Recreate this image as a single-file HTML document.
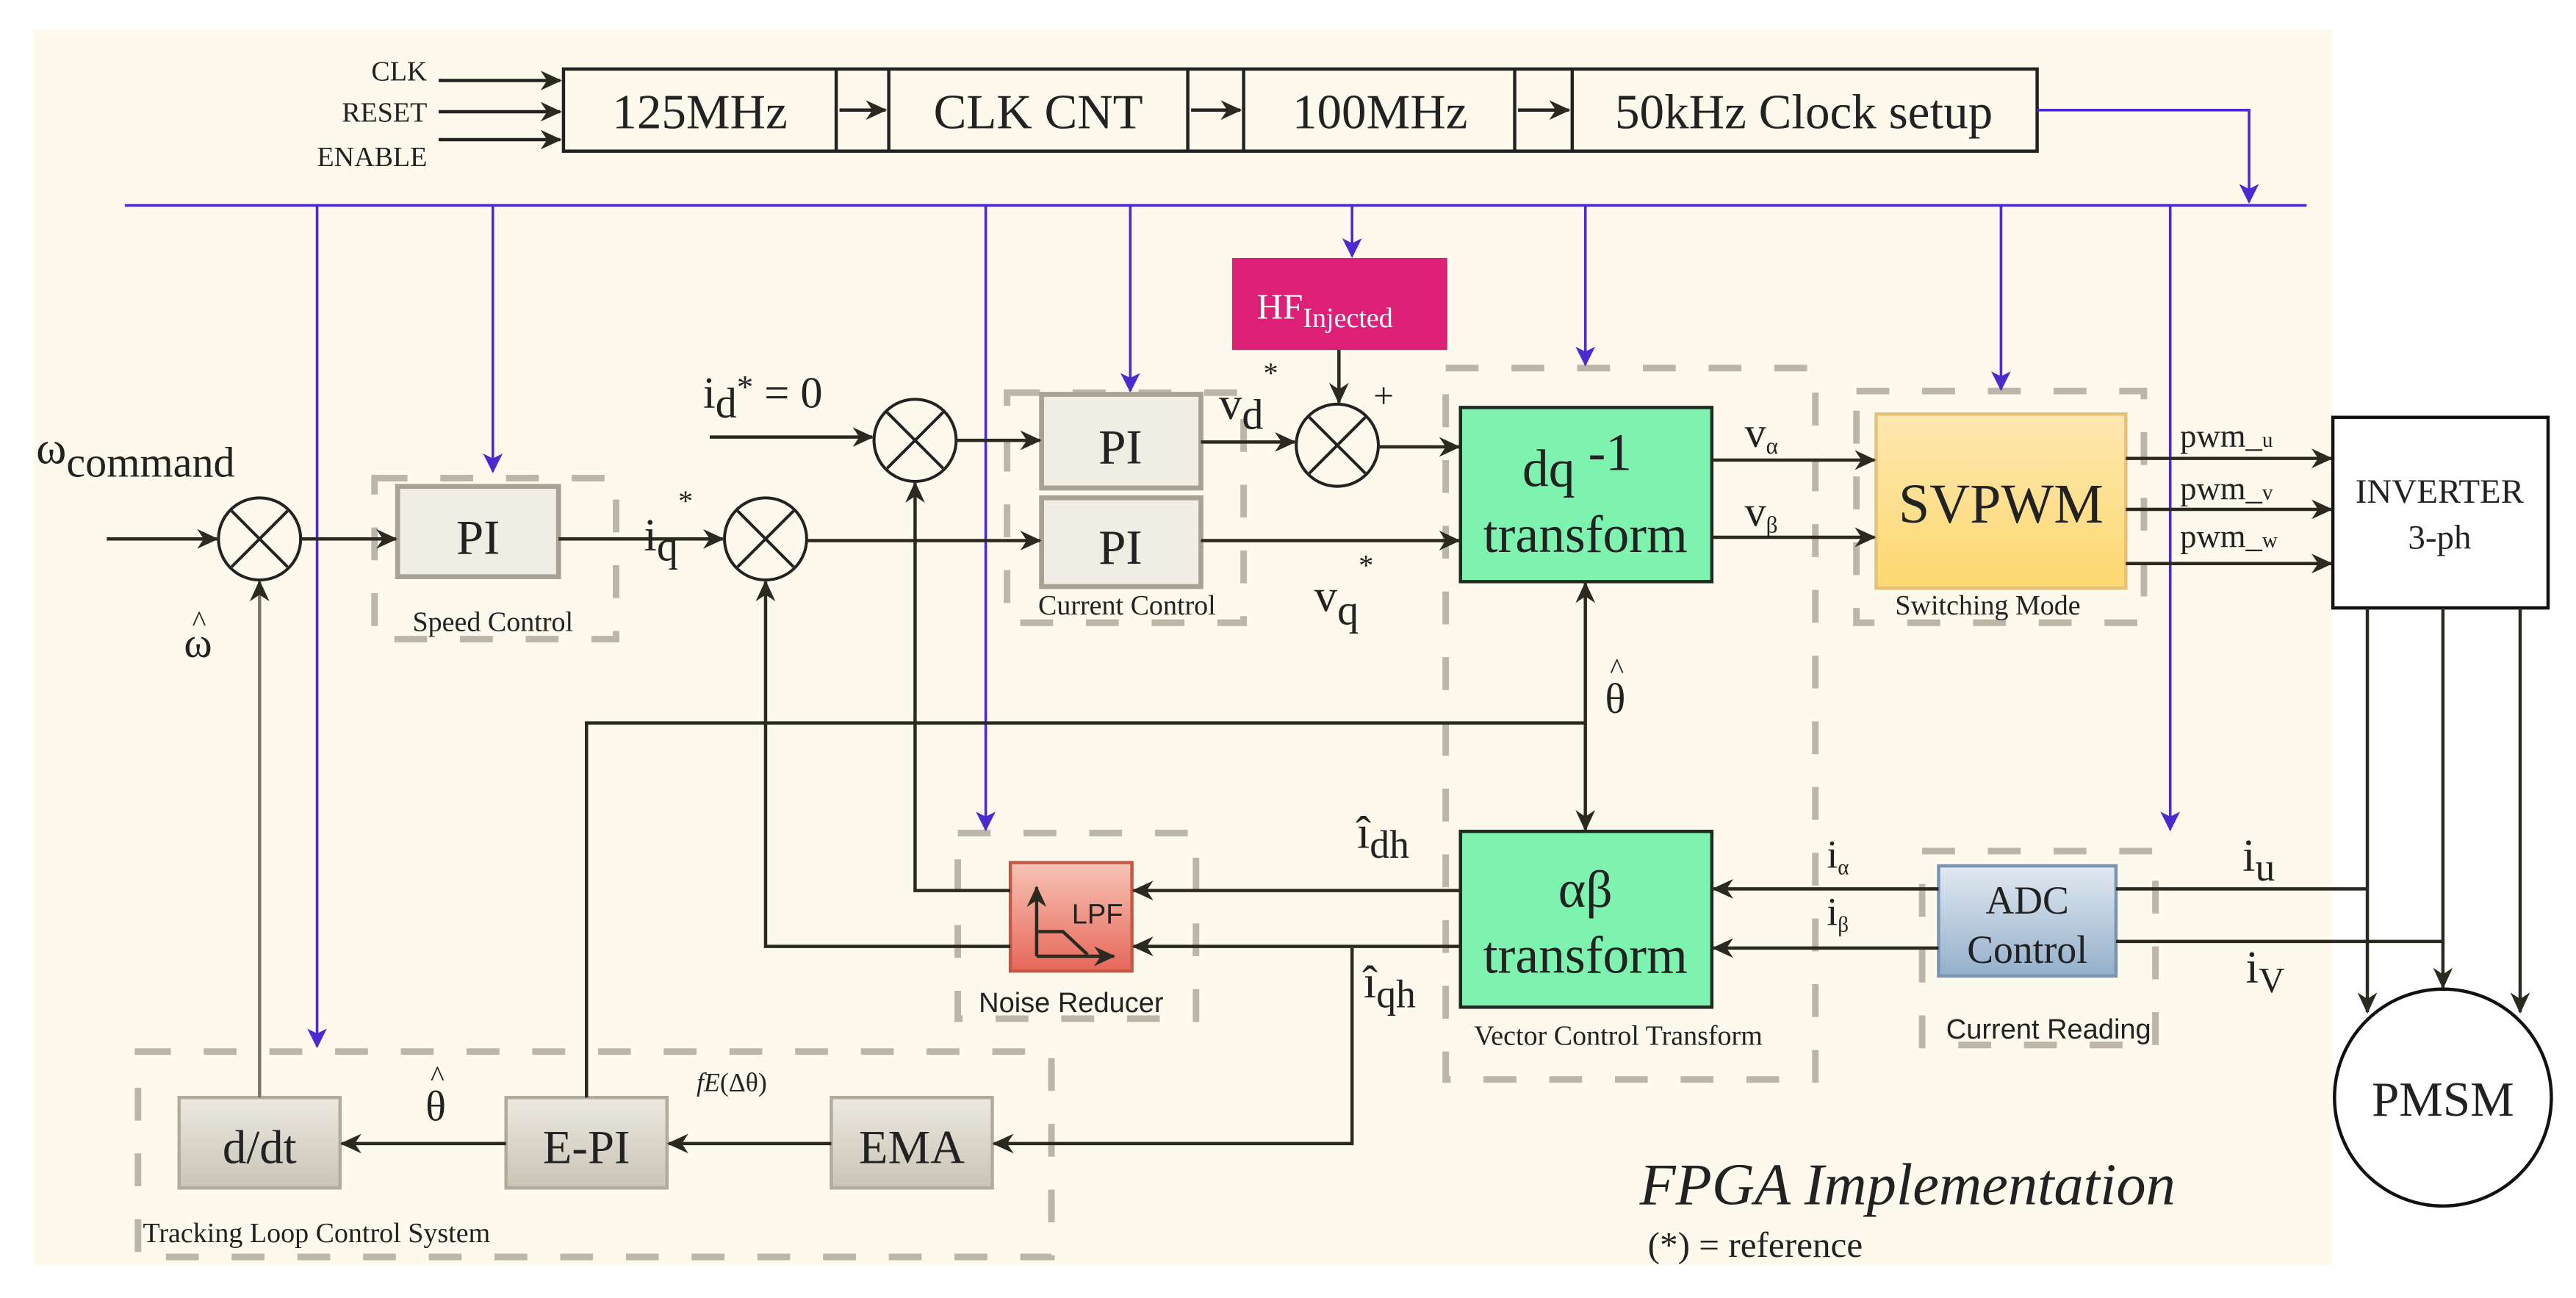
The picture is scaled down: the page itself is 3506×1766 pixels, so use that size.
<!DOCTYPE html>
<html><head><meta charset="utf-8"><style>
html,body{margin:0;padding:0;background:#fff;}
svg{display:block;}
text{font-family:"Liberation Serif",serif;fill:#222;}
.s{font-family:"Liberation Sans",sans-serif;}
</style></head><body>
<svg width="3506" height="1766" viewBox="0 0 1568 790" preserveAspectRatio="none" xmlns="http://www.w3.org/2000/svg">
<defs>
<marker id="a" markerUnits="userSpaceOnUse" markerWidth="14" markerHeight="14" refX="12" refY="7" orient="auto"><path d="M0,1 L13,7 L0,13 L4,7 Z" fill="#2a2a20"/></marker>
<marker id="p" markerUnits="userSpaceOnUse" markerWidth="12" markerHeight="14" refX="11" refY="6" orient="auto"><path d="M0,0 L12,6 L0,12 L3,6 Z" fill="#4a2bd0"/></marker>
<linearGradient id="gy" x1="0" y1="0" x2="0" y2="1"><stop offset="0" stop-color="#ece9e0"/><stop offset="1" stop-color="#c9c4b6"/></linearGradient>
<linearGradient id="yl" x1="0" y1="0" x2="0" y2="1"><stop offset="0" stop-color="#fde8b0"/><stop offset="1" stop-color="#fdd870"/></linearGradient>
<linearGradient id="bl" x1="0" y1="0" x2="0" y2="1"><stop offset="0" stop-color="#e2e9f1"/><stop offset="1" stop-color="#93afca"/></linearGradient>
<linearGradient id="rd" x1="0" y1="0" x2="0" y2="1"><stop offset="0" stop-color="#f7c4b6"/><stop offset="1" stop-color="#e6685a"/></linearGradient>
</defs>
<rect x="20" y="18" width="1400" height="752" fill="#fdf9ec"/>

<g fill="none" stroke="#bbb6a7" stroke-width="4" stroke-dasharray="20 20">
<rect x="228" y="291" width="147" height="98"/>
<rect x="613" y="239" width="144" height="140"/>
<rect x="880" y="224" width="225" height="433"/>
<rect x="1130" y="238" width="175" height="141"/>
<rect x="583" y="507" width="145" height="113"/>
<rect x="1170" y="518" width="142" height="118"/>
<rect x="84" y="640" width="556" height="125"/>
</g>

<g stroke="#222" stroke-width="2" fill="none">
<rect x="343" y="42" width="897" height="50"/>
<line x1="509" y1="42" x2="509" y2="92"/><line x1="541" y1="42" x2="541" y2="92"/>
<line x1="723" y1="42" x2="723" y2="92"/><line x1="757" y1="42" x2="757" y2="92"/>
<line x1="922" y1="42" x2="922" y2="92"/><line x1="957" y1="42" x2="957" y2="92"/>
<line x1="267" y1="49" x2="341" y2="49" marker-end="url(#a)"/>
<line x1="267" y1="68" x2="341" y2="68" marker-end="url(#a)"/>
<line x1="267" y1="85" x2="341" y2="85" marker-end="url(#a)"/>
<line x1="511" y1="67" x2="539" y2="67" marker-end="url(#a)"/>
<line x1="725" y1="67" x2="755" y2="67" marker-end="url(#a)"/>
<line x1="924" y1="67" x2="955" y2="67" marker-end="url(#a)"/>
</g>
<text x="260" y="49" font-size="17" text-anchor="end">CLK</text>
<text x="260" y="74" font-size="17" text-anchor="end">RESET</text>
<text x="260" y="101" font-size="17" text-anchor="end">ENABLE</text>
<text x="426" y="78" font-size="30" text-anchor="middle">125MHz</text>
<text x="632" y="78" font-size="30" text-anchor="middle">CLK CNT</text>
<text x="840" y="78" font-size="30" text-anchor="middle">100MHz</text>
<text x="1098" y="78" font-size="30" text-anchor="middle">50kHz Clock setup</text>

<g stroke="#4a2bd0" stroke-width="1.6" fill="none">
<polyline points="1240,67 1369,67 1369,123" marker-end="url(#p)"/>
<line x1="76" y1="125" x2="1404" y2="125"/>
<line x1="193" y1="125" x2="193" y2="637" marker-end="url(#p)"/>
<line x1="300" y1="125" x2="300" y2="287" marker-end="url(#p)"/>
<line x1="600" y1="125" x2="600" y2="505" marker-end="url(#p)"/>
<line x1="688" y1="125" x2="688" y2="238" marker-end="url(#p)"/>
<line x1="823" y1="125" x2="823" y2="156" marker-end="url(#p)"/>
<line x1="965" y1="125" x2="965" y2="222" marker-end="url(#p)"/>
<line x1="1218" y1="125" x2="1218" y2="237" marker-end="url(#p)"/>
<line x1="1321" y1="125" x2="1321" y2="505" marker-end="url(#p)"/>
</g>

<rect x="750" y="157" width="131" height="56" fill="#de1f78"/>
<text x="765" y="194" font-size="22" style="fill:#fff">HF<tspan font-size="17" dy="5">Injected</tspan></text>

<g stroke="#a8a294" stroke-width="3" fill="#f0ede5">
<rect x="242" y="296" width="98" height="55"/>
<rect x="634" y="240" width="97" height="57"/>
<rect x="634" y="303" width="97" height="54"/>
</g>
<text x="291" y="337" font-size="30" text-anchor="middle">PI</text>
<text x="682" y="282" font-size="30" text-anchor="middle">PI</text>
<text x="682" y="343" font-size="30" text-anchor="middle">PI</text>

<rect x="889" y="248" width="153" height="106" fill="#7ef3b0" stroke="#1e2a22" stroke-width="2"/>
<text x="960" y="296" font-size="32" text-anchor="middle">dq <tspan dy="-10">-1</tspan></text>
<text x="965" y="336" font-size="32" text-anchor="middle">transform</text>

<rect x="1142" y="252" width="152" height="106" fill="url(#yl)" stroke="#e5c27a" stroke-width="2"/>
<text x="1218" y="318" font-size="34" text-anchor="middle">SVPWM</text>

<rect x="1420" y="254" width="131" height="116" fill="#fff" stroke="#111" stroke-width="2"/>
<text x="1485" y="306" font-size="21" text-anchor="middle">INVERTER</text>
<text x="1485" y="334" font-size="21" text-anchor="middle">3-ph</text>

<rect x="889" y="506" width="153" height="107" fill="#7ef3b0" stroke="#1e2a22" stroke-width="2"/>
<text x="965" y="552" font-size="32" text-anchor="middle">αβ</text>
<text x="965" y="592" font-size="32" text-anchor="middle">transform</text>

<rect x="1180" y="527" width="108" height="67" fill="url(#bl)" stroke="#7b95b0" stroke-width="2"/>
<text x="1234" y="556" font-size="24" text-anchor="middle">ADC</text>
<text x="1234" y="586" font-size="24" text-anchor="middle">Control</text>

<rect x="615" y="525" width="74" height="66" fill="url(#rd)" stroke="#c25a48" stroke-width="2"/>
<g stroke="#2a2a20" stroke-width="2" fill="none">
<line x1="631" y1="582" x2="631" y2="540" marker-end="url(#a)"/>
<line x1="631" y1="582" x2="678" y2="582" marker-end="url(#a)"/>
<polyline points="632,567 647,567 662,581"/>
</g>
<text class="s" x="668" y="562" font-size="17" text-anchor="middle">LPF</text>

<g stroke="#b0ab9c" stroke-width="2" fill="url(#gy)">
<rect x="109" y="668" width="98" height="55"/>
<rect x="308" y="668" width="98" height="55"/>
<rect x="506" y="668" width="98" height="55"/>
</g>
<text x="158" y="708" font-size="29" text-anchor="middle">d/dt</text>
<text x="357" y="708" font-size="29" text-anchor="middle">E-PI</text>
<text x="555" y="708" font-size="29" text-anchor="middle">EMA</text>

<ellipse cx="1487" cy="668" rx="66" ry="66" fill="#fff" stroke="#111" stroke-width="2"/>
<text x="1487" y="679" font-size="30" text-anchor="middle">PMSM</text>

<g stroke="#222" stroke-width="1.8" fill="none">
<g transform="translate(158,328)"><circle r="25"/><line x1="-17" y1="-17" x2="17" y2="17"/><line x1="17" y1="-17" x2="-17" y2="17"/></g>
<g transform="translate(466,328)"><circle r="25"/><line x1="-17" y1="-17" x2="17" y2="17"/><line x1="17" y1="-17" x2="-17" y2="17"/></g>
<g transform="translate(557,268)"><circle r="25"/><line x1="-17" y1="-17" x2="17" y2="17"/><line x1="17" y1="-17" x2="-17" y2="17"/></g>
<g transform="translate(814,271)"><circle r="25"/><line x1="-17" y1="-17" x2="17" y2="17"/><line x1="17" y1="-17" x2="-17" y2="17"/></g>
</g>

<g stroke="#2a2a20" stroke-width="2" fill="none">
<line x1="65" y1="328" x2="132" y2="328" marker-end="url(#a)"/>
<line x1="183" y1="328" x2="241" y2="328" marker-end="url(#a)"/>
<line x1="340" y1="328" x2="440" y2="328" marker-end="url(#a)"/>
<line x1="432" y1="266" x2="531" y2="266" marker-end="url(#a)"/>
<line x1="582" y1="268" x2="633" y2="268" marker-end="url(#a)"/>
<line x1="491" y1="329" x2="633" y2="329" marker-end="url(#a)"/>
<line x1="731" y1="269" x2="788" y2="269" marker-end="url(#a)"/>
<line x1="815" y1="213" x2="815" y2="245" marker-end="url(#a)"/>
<line x1="839" y1="272" x2="888" y2="272" marker-end="url(#a)"/>
<line x1="731" y1="329" x2="888" y2="329" marker-end="url(#a)"/>
<line x1="1042" y1="280" x2="1141" y2="280" marker-end="url(#a)"/>
<line x1="1042" y1="327" x2="1141" y2="327" marker-end="url(#a)"/>
<line x1="1294" y1="279" x2="1419" y2="279" marker-end="url(#a)"/>
<line x1="1294" y1="310" x2="1419" y2="310" marker-end="url(#a)"/>
<line x1="1294" y1="343" x2="1419" y2="343" marker-end="url(#a)"/>
<line x1="1441" y1="370" x2="1441" y2="616" marker-end="url(#a)"/>
<line x1="1487" y1="370" x2="1487" y2="601" marker-end="url(#a)"/>
<line x1="1534" y1="370" x2="1534" y2="616" marker-end="url(#a)"/>
<line x1="1288" y1="541" x2="1441" y2="541"/>
<line x1="1288" y1="573" x2="1487" y2="573"/>
<line x1="1180" y1="541" x2="1043" y2="541" marker-end="url(#a)"/>
<line x1="1180" y1="577" x2="1043" y2="577" marker-end="url(#a)"/>
<line x1="965" y1="440" x2="965" y2="355" marker-end="url(#a)"/>
<line x1="965" y1="440" x2="965" y2="505" marker-end="url(#a)"/>
<polyline points="965,440 357,440 357,668"/>
<line x1="889" y1="542" x2="690" y2="542" marker-end="url(#a)"/>
<line x1="889" y1="576" x2="690" y2="576" marker-end="url(#a)"/>
<polyline points="615,542 557,542 557,294" marker-end="url(#a)"/>
<polyline points="615,576 466,576 466,354" marker-end="url(#a)"/>
<polyline points="823,577 823,696 605,696" marker-end="url(#a)"/>
<line x1="506" y1="696" x2="407" y2="696" marker-end="url(#a)"/>
<line x1="308" y1="696" x2="208" y2="696" marker-end="url(#a)"/>
<line x1="158" y1="668" x2="158" y2="354" marker-end="url(#a)" stroke="#7a7668"/>
</g>

<text x="22" y="282" font-size="28">ω<tspan font-size="26" dy="8">command</tspan></text>
<text x="112" y="400" font-size="26">ω</text><text x="117" y="384" font-size="18">^</text>
<text x="392" y="335" font-size="28">i<tspan font-size="26" dy="6">q</tspan><tspan font-size="18" dy="-30">*</tspan></text>
<text x="428" y="248" font-size="27">i<tspan font-size="26" dy="6">d</tspan><tspan font-size="20" dy="-12">*</tspan><tspan dy="6"> = 0</tspan></text>
<text x="742" y="255" font-size="28">v<tspan font-size="26" dy="6">d</tspan><tspan font-size="18" dy="-28">*</tspan></text>
<text x="836" y="248" font-size="22">+</text>
<text x="800" y="372" font-size="28">v<tspan font-size="26" dy="8">q</tspan><tspan font-size="18" dy="-30">*</tspan></text>
<text x="1062" y="272" font-size="26">v<tspan font-size="14" dy="4">α</tspan></text>
<text x="1062" y="320" font-size="26">v<tspan font-size="14" dy="4">β</tspan></text>
<text x="1327" y="272" font-size="20">pwm_<tspan font-size="13">u</tspan></text>
<text x="1327" y="304" font-size="20">pwm_<tspan font-size="13">v</tspan></text>
<text x="1327" y="333" font-size="20">pwm_<tspan font-size="13">w</tspan></text>
<text x="977" y="434" font-size="26">θ</text><text x="980" y="413" font-size="18">^</text>
<text x="826" y="516" font-size="28">î<tspan font-size="24" dy="6">dh</tspan></text>
<text x="830" y="607" font-size="28">î<tspan font-size="24" dy="6">qh</tspan></text>
<text x="1112" y="528" font-size="24">i<tspan font-size="13" dy="4">α</tspan></text>
<text x="1112" y="563" font-size="24">i<tspan font-size="13" dy="4">β</tspan></text>
<text x="1365" y="530" font-size="28">i<tspan font-size="24" dy="6">u</tspan></text>
<text x="1367" y="598" font-size="28">i<tspan font-size="22" dy="6">V</tspan></text>
<text x="259" y="682" font-size="26">θ</text><text x="262" y="661" font-size="18">^</text>
<text x="424" y="664" font-size="16" font-style="italic">fE<tspan font-style="normal">(Δθ)</tspan></text>
<text x="300" y="384" font-size="17" text-anchor="middle">Speed Control</text>
<text x="686" y="374" font-size="17" text-anchor="middle">Current Control</text>
<text x="1210" y="374" font-size="17" text-anchor="middle">Switching Mode</text>
<text class="s" x="652" y="616" font-size="17" text-anchor="middle">Noise Reducer</text>
<text x="985" y="636" font-size="17" text-anchor="middle">Vector Control Transform</text>
<text class="s" x="1247" y="632" font-size="17" text-anchor="middle">Current Reading</text>
<text x="87" y="756" font-size="17">Tracking Loop Control System</text>
<text x="998" y="733" font-size="36" font-style="italic">FPGA Implementation</text>
<text x="1003" y="765" font-size="22">(*) = reference</text>
</svg>
</body></html>
